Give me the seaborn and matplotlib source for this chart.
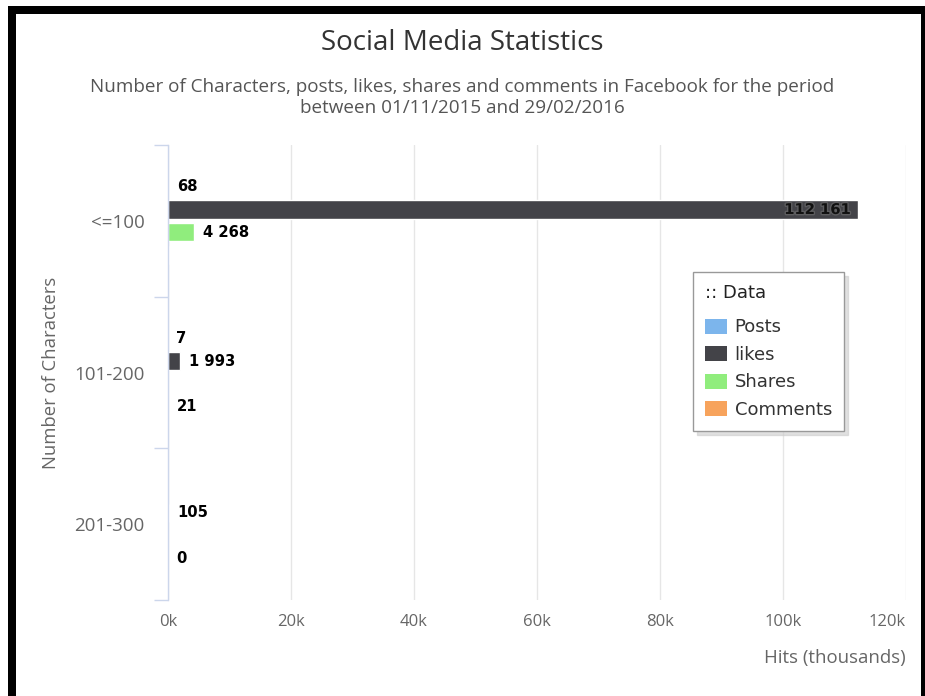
import numpy as np
import pandas as pd
import matplotlib
matplotlib.use("Agg")
import matplotlib.pyplot as plt
import matplotlib.patheffects as pe
from matplotlib.patches import Rectangle, Patch
import seaborn as sns

# --- data -----------------------------------------------------------------
categories = ["<=100", "101-200", "201-300"]
series = ["Posts", "likes", "Shares", "Comments"]
posts = [68, 7, np.nan]
likes = [112161, 1993, 105]
shares = [4268, np.nan, np.nan]
comments = [150, 21, 0]
# data labels that the chart leaves out (overlap hidden)
hidden_labels = [("Comments", "<=100")]

colors = ["#7cb5ec", "#434348", "#90ed7d", "#f7a35c"]
x_ticks = [0, 20000, 40000, 60000, 80000, 100000, 120000]
x_tick_labels = ["0k", "20k", "40k", "60k", "80k", "100k", "120k"]

values = {"Posts": posts, "likes": likes, "Shares": shares, "Comments": comments}
df = pd.DataFrame(
    [(c, s, values[s][i]) for s in series for i, c in enumerate(categories)],
    columns=["chars", "series", "hits"],
)

# --- figure ---------------------------------------------------------------
sns.set_theme(style="white")
plt.rcParams["font.family"] = ["Open Sans", "DejaVu Sans"]

W, H = 925, 696
fig = plt.figure(figsize=(W / 100, H / 100), dpi=100)
fig.patch.set_facecolor("white")

L, R, T, B = 168, 906, 145, 600
ax = fig.add_axes([L / W, 1 - B / H, (R - L) / W, (B - T) / H])

sns.barplot(
    data=df.dropna(), y="chars", x="hits", hue="series",
    order=categories, hue_order=series, palette=colors,
    orient="h", width=0.6, gap=0.2, dodge=True, ax=ax,
    saturation=1, legend=False, errorbar=None,
)

ax.set_xlim(0, 120000)
ax.set_ylim(2.5, -0.5)
ax.set_xticks(x_ticks)
ax.set_xticklabels(x_tick_labels)
ax.tick_params(axis="x", length=0, pad=10, colors="#666666", labelsize=12)
ax.tick_params(axis="y", which="major", length=0, pad=17, colors="#666666", labelsize=13.5)
ax.set_yticks([-0.5, 0.5, 1.5, 2.5], minor=True)
ax.tick_params(axis="y", which="minor", left=True, length=10, width=1,
               color="#ccd6eb", direction="out")
xl = ax.get_xticklabels()
xl[-1].set_horizontalalignment("right")

ax.grid(axis="x", color="#e6e6e6", linewidth=1)
ax.set_axisbelow(True)
for side in ["top", "right", "bottom"]:
    ax.spines[side].set_visible(False)
ax.spines["left"].set_color("#ccd6eb")
ax.spines["left"].set_linewidth(1)

ax.set_ylabel("Number of Characters", color="#666666", fontsize=13.3)
ax.yaxis.set_label_coords((60 - L) / (R - L), 0.5)
ax.set_xlabel("")
fig.text(R / W, 1 - 658 / H, "Hits (thousands)", ha="right", va="center",
         color="#666666", fontsize=13.4)

# --- data labels ----------------------------------------------------------
def fmt(v):
    return f"{int(v):,}".replace(",", " ")

label_font = dict(fontsize=10.6, fontweight="bold", family="DejaVu Sans")
for s, cont in zip(series, ax.containers):
    present = [c for i, c in enumerate(categories) if not np.isnan(values[s][i])]
    for c, bar in zip(present, cont.patches):
        if (s, c) in hidden_labels:
            continue
        v = values[s][categories.index(c)]
        yc = bar.get_y() + bar.get_height() / 2
        w = bar.get_width()
        if v > 105000:
            ax.annotate(fmt(v), (w, yc), xytext=(-5, 0), textcoords="offset points",
                        ha="right", va="center", color="#111111",
                        path_effects=[pe.withStroke(linewidth=2, foreground="#777777", alpha=0.5)],
                        **label_font)
        else:
            ax.annotate(fmt(v), (w, yc), xytext=(6, 0), textcoords="offset points",
                        ha="left", va="center", color="#000000", **label_font)

# --- titles ---------------------------------------------------------------
fig.text(0.5, 1 - 43 / H, "Social Media Statistics", ha="center", va="center",
         fontsize=20, color="#333333")
fig.text(0.5, 1 - 87 / H,
         "Number of Characters, posts, likes, shares and comments in Facebook for the period",
         ha="center", va="center", fontsize=13.6, color="#555555")
fig.text(0.5, 1 - 108 / H, "between 01/11/2015 and 29/02/2016",
         ha="center", va="center", fontsize=13.6, color="#555555")

# --- legend ---------------------------------------------------------------
handles = [Patch(facecolor=col, edgecolor="none") for col in colors]
leg_size = 13
leg_spacing = 0.53
leg = fig.legend(handles, series, loc="upper left",
                 bbox_to_anchor=(693 / W, 1 - 272 / H), title=":: Data",
                 prop={"family": "DejaVu Sans", "size": leg_size},
                 title_fontproperties={"family": "DejaVu Sans", "size": leg_size},
                 frameon=True, fancybox=False,
                 shadow={"color": "#cccccc", "alpha": 0.6, "ox": 3, "oy": -3},
                 handlelength=1.25, handleheight=0.9,
                 handletextpad=0.4, labelspacing=leg_spacing, borderpad=0.65,
                 borderaxespad=0)
leg._legend_box.align = "left"
leg._legend_box.sep = leg_spacing * leg_size + 5
leg.get_frame().set_edgecolor("#999999")
leg.get_frame().set_linewidth(1)
for t in leg.get_texts():
    t.set_color("#333333")
leg.get_title().set_color("#222222")

# --- black frame ----------------------------------------------------------
fig.patches.append(Rectangle((12 / W, -2 / H), 913 / W, 688 / H, transform=fig.transFigure,
                             fill=False, edgecolor="black", linewidth=8 * 0.72))

fig.savefig("out.png", dpi=100)
